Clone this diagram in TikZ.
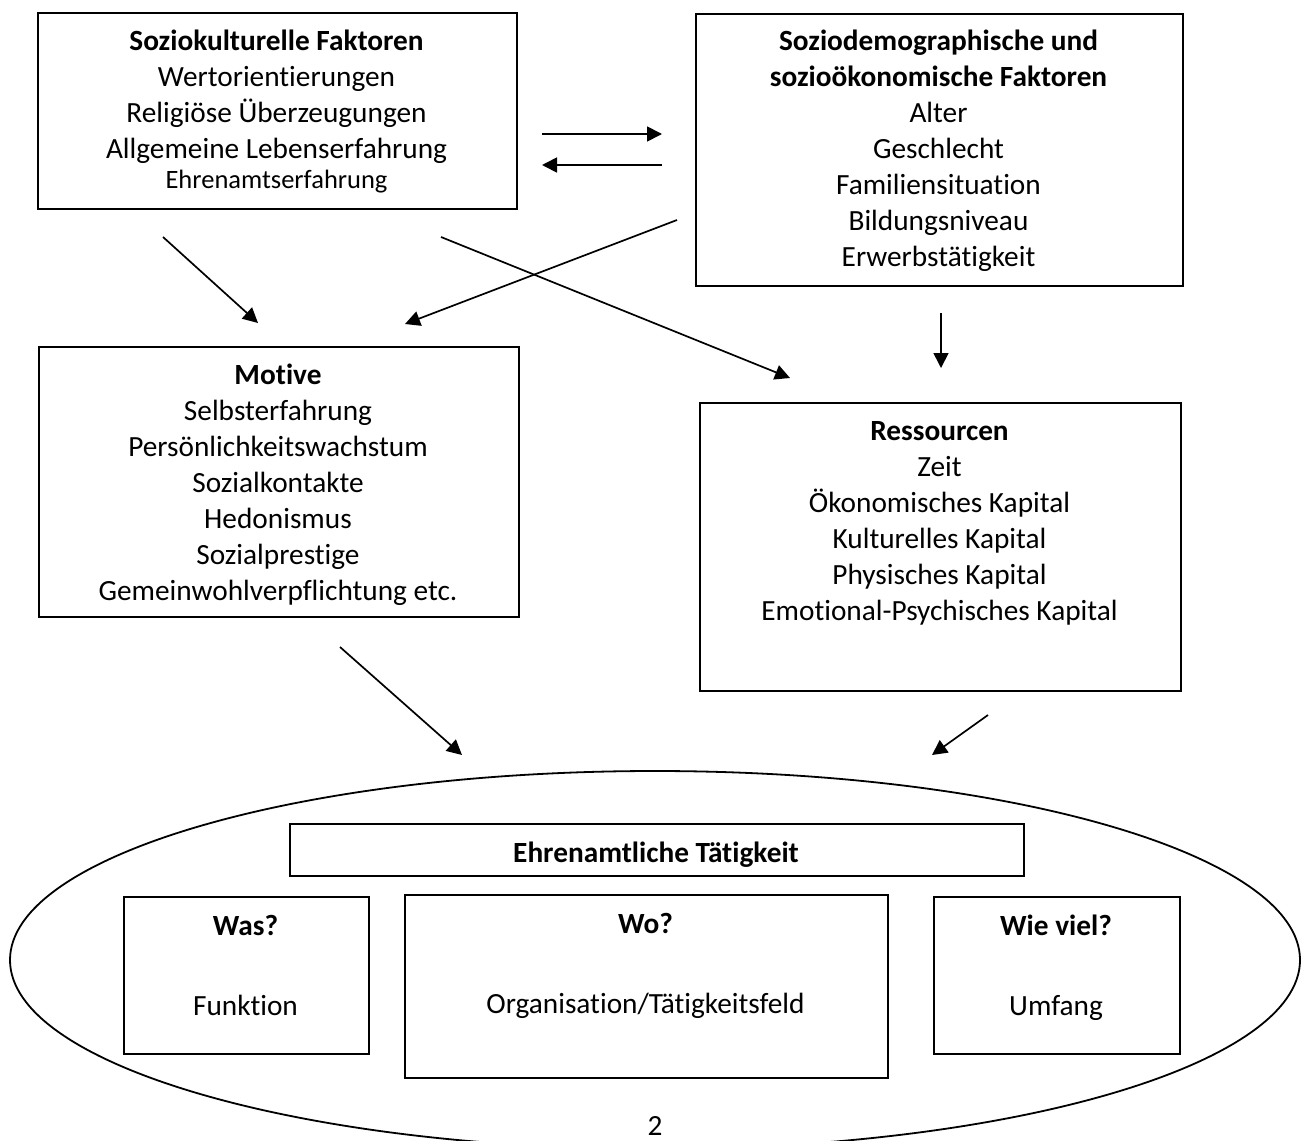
\documentclass[tikz,border=0pt]{standalone}
\usepackage{fontspec}
\setmainfont{Carlito}[Ligatures=NoCommon]
\usetikzlibrary{arrows.meta,shapes.geometric}
\begin{document}
\begin{tikzpicture}[x=1pt,y=-1pt,
  box/.style={draw,line width=1.8pt,inner sep=0pt,anchor=north west},
  txt/.style={align=center,inner sep=0pt,anchor=base,font=\fontsize{29.3pt}{36pt}\selectfont},
  small/.style={inner sep=0pt,anchor=base,font=\fontsize{26.5pt}{32pt}\selectfont},
  arr/.style={line width=1.7pt,-{Triangle[length=15pt,width=15pt]}}]
\useasboundingbox (0,0) rectangle (1305,1140);
\begin{scope}
\clip (0,0) rectangle (1305,1140);
\node[draw,line width=1.8pt,ellipse,inner sep=0pt,minimum width=1290pt,minimum height=378pt] (ell) at (655,960) {};
\end{scope}
% boxes
\node[box,minimum width=479pt,minimum height=196pt] (b1) at (37,12) {};
\node[box,minimum width=487pt,minimum height=272pt] (b2) at (695,13) {};
\node[box,minimum width=480pt,minimum height=270pt] (b3) at (38,346) {};
\node[box,minimum width=481pt,minimum height=288pt] (b4) at (699,402) {};
\node[box,minimum width=734pt,minimum height=52pt] (bar) at (289,823) {};
\node[box,minimum width=245pt,minimum height=157pt] (was) at (123,896) {};
\node[box,minimum width=483pt,minimum height=183pt] (wo) at (404,894) {};
\node[box,minimum width=246pt,minimum height=157pt] (wie) at (933,896) {};
% texts (base anchor = baseline of last line)
\node[txt] (t1) at (276.5,158) {\textbf{Soziokulturelle Faktoren}\\Wertorientierungen\\Religiöse Überzeugungen\\Allgemeine Lebenserfahrung};
\node[small] (t1b) at (276.5,188) {Ehrenamtserfahrung};
\node[txt] (t2) at (938.5,266) {\textbf{Soziodemographische und}\\\textbf{sozioökonomische Faktoren}\\Alter\\Geschlecht\\Familiensituation\\Bildungsniveau\\Erwerbstätigkeit};
\node[txt] (t3) at (278,600) {\textbf{Motive}\\Selbsterfahrung\\Persönlichkeitswachstum\\Sozialkontakte\\Hedonismus\\Sozialprestige\\Gemeinwohlverpflichtung etc.};
\node[txt] (t4) at (939.5,620) {\textbf{Ressourcen}\\Zeit\\Ökonomisches Kapital\\Kulturelles Kapital\\Physisches Kapital\\Emotional-Psychisches Kapital};
\node[txt] (t5) at (656,862) {\textbf{Ehrenamtliche Tätigkeit}};
\node[txt] (t6) at (245.5,935) {\textbf{Was?}};
\node[txt] (t7) at (245.5,1015) {Funktion};
\node[txt] (t8) at (645.5,933) {\textbf{Wo?}};
\node[txt] (t9) at (645.5,1013) {Organisation/Tätigkeitsfeld};
\node[txt] (t10) at (1056,935) {\textbf{Wie viel?}};
\node[txt] (t11) at (1056,1015) {Umfang};
\node[txt] (pg) at (655,1135) {2};
% arrow endpoints
\coordinate (a1s) at (542,134); \coordinate (a1e) at (662,134);
\coordinate (a2s) at (662,165); \coordinate (a2e) at (542,165);
\coordinate (a3s) at (163,237); \coordinate (a3e) at (258,323);
\coordinate (a4s) at (677,220); \coordinate (a4e) at (405,324);
\coordinate (a5s) at (441,237); \coordinate (a5e) at (790,378);
\coordinate (a6s) at (941,313); \coordinate (a6e) at (941,368);
\coordinate (a7s) at (340,647); \coordinate (a7e) at (462,755);
\coordinate (a8s) at (988,715); \coordinate (a8e) at (932,755);
\foreach \i in {1,...,8} {\draw[arr] (a\i s) -- (a\i e);}
\end{tikzpicture}
\end{document}
